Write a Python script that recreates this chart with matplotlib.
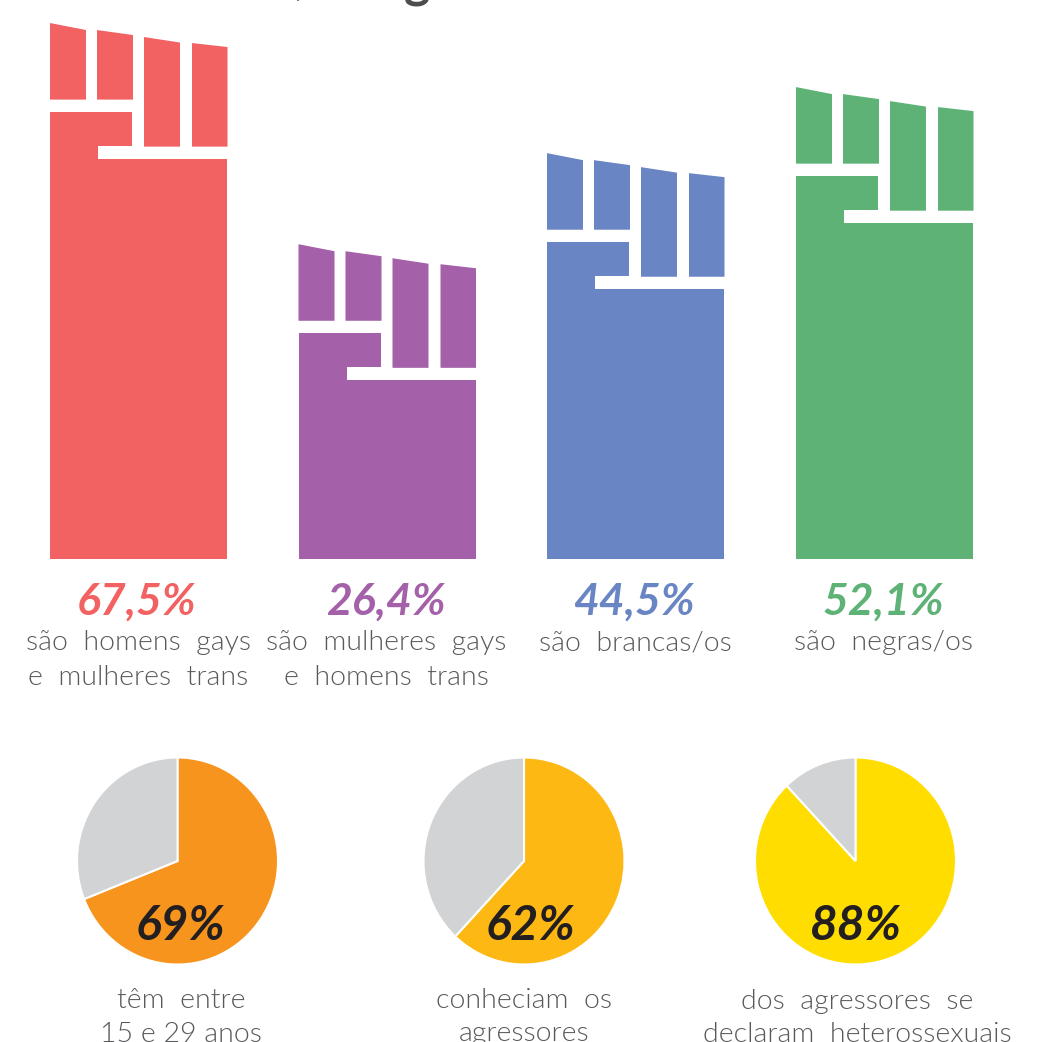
from matplotlib import pyplot as plt
from matplotlib.patches import Polygon
import numpy as np

W = 1042
plt.rcParams['font.family'] = ['Lato', 'DejaVu Sans']

# Punhos (espaço duplo: as palavras ficam bem afastadas)
fist_values = [67.5, 26.4, 44.5, 52.1]
fist_labels = ["67,5%", "26,4%", "44,5%", "52,1%"]
fist_texts = ["são  homens  gays\ne  mulheres  trans",
              "são  mulheres  gays\ne  homens  trans",
              "são  brancas/os",
              "são  negras/os"]
fist_colors = ["#F26262", "#A460A8", "#6985C4", "#5EB276"]

# Escala do eixo dos punhos: valor -> altura em pixels (não linear)
scale_values = [0, 26.4, 44.5, 52.1, 67.5, 80]
scale_heights = [0, 314, 405, 471, 535, 558]

# Pizzas
pie_values = [69, 62, 88]
pie_labels = ["69%", "62%", "88%"]
pie_texts = ["têm  entre\n15 e 29 anos",
             "conheciam  os\nagressores",
             "dos  agressores  se\ndeclaram  heterossexuais"]
pie_colors = ["#F7941D", "#FDB813", "#FFDD00"]


def forward(v):
    return np.interp(v, scale_values, scale_heights)


def inverse(h):
    return np.interp(h, scale_heights, scale_values)


def draw_fist(ax, x0, value, color):
    """Desenha um punho com o topo em value; dy em pixels abaixo do topo"""
    def y(dy):
        return inverse(forward(value) - dy)

    fingers = [(0, 36, 0, 7, 76.5), (47, 83, 7, 12, 76.5),
               (94, 130, 14, 19.5, 123.5), (142, 177.5, 20, 24, 123.5)]
    for xa, xb, top_a, top_b, bottom in fingers:
        ax.add_patch(Polygon([(x0 + xa, y(top_a)), (x0 + xb, y(top_b)),
                              (x0 + xb, y(bottom)), (x0 + xa, y(bottom))],
                             closed=True, fc=color, ec="none"))
    # palma com o polegar
    ax.add_patch(Polygon([(x0, y(88.5)), (x0 + 82, y(88.5)), (x0 + 82, y(123)),
                          (x0 + 48, y(123)), (x0 + 48, y(136)), (x0 + 177, y(136)),
                          (x0 + 177, 0), (x0, 0)],
                         closed=True, fc=color, ec="none"))


def put_text(x, y, s, **kwargs):
    fig.text(x / W, 1 - y / W, s, ha="center", va="baseline", **kwargs)


def put_lines(x, y, s, step):
    for i, line in enumerate(s.split("\n")):
        put_text(x, y + i * step, line, fontsize=20.5, fontweight=300, color="#58595B")


fig = plt.figure(figsize=(W / 100, W / 100), dpi=100, facecolor="white")

# Eixo dos punhos: vai do topo da figura até a linha de base
base_y = 558.5
ax = fig.add_axes([0, 1 - base_y / W, 1, base_y / W])
ax.set_xlim(0, W)
ax.set_yscale("function", functions=(forward, inverse))
ax.set_ylim(0, 80)
ax.axis("off")

fist_x = [50, 298.5, 547, 796]
for x0, value, label, text, color in zip(fist_x, fist_values, fist_labels, fist_texts, fist_colors):
    draw_fist(ax, x0, value, color)
    put_text(x0 + 87, 615, label, fontsize=32, fontweight="bold", fontstyle="italic", color=color)
    put_lines(x0 + 88, 650, text, 35)

# Restos do título, cortado pela borda superior
put_text(300, -6.5, ",", fontsize=36, fontweight="bold", color="#4D4D4F")
put_text(417, -3, "g", fontsize=36, fontweight="bold", color="#4D4D4F")

pie_x = [177.5, 524, 855.5]
label_x = [180, 530, 856]
text_x = [181, 524, 857]
pie_w, pie_h = 201, 207
pie_top = 757.5
for cx, lx, tx, value, label, text, color in zip(pie_x, label_x, text_x, pie_values, pie_labels, pie_texts, pie_colors):
    ax_pie = fig.add_axes([(cx - pie_w / 2) / W, 1 - (pie_top + pie_h) / W, pie_w / W, pie_h / W])
    ax_pie.pie([value, 100 - value], colors=[color, "#D1D3D4"], startangle=90, counterclock=False,
               radius=1, wedgeprops={"edgecolor": "white", "linewidth": 1.5})
    ax_pie.set_aspect("auto")
    ax_pie.set_xlim(-1, 1)
    ax_pie.set_ylim(-1, 1)
    put_text(lx, 940, label, fontsize=34.5, fontweight="bold", fontstyle="italic", color="#231F20")
    put_lines(tx, 1008.5, text, 33)

fig.savefig("out.png", dpi=100)
